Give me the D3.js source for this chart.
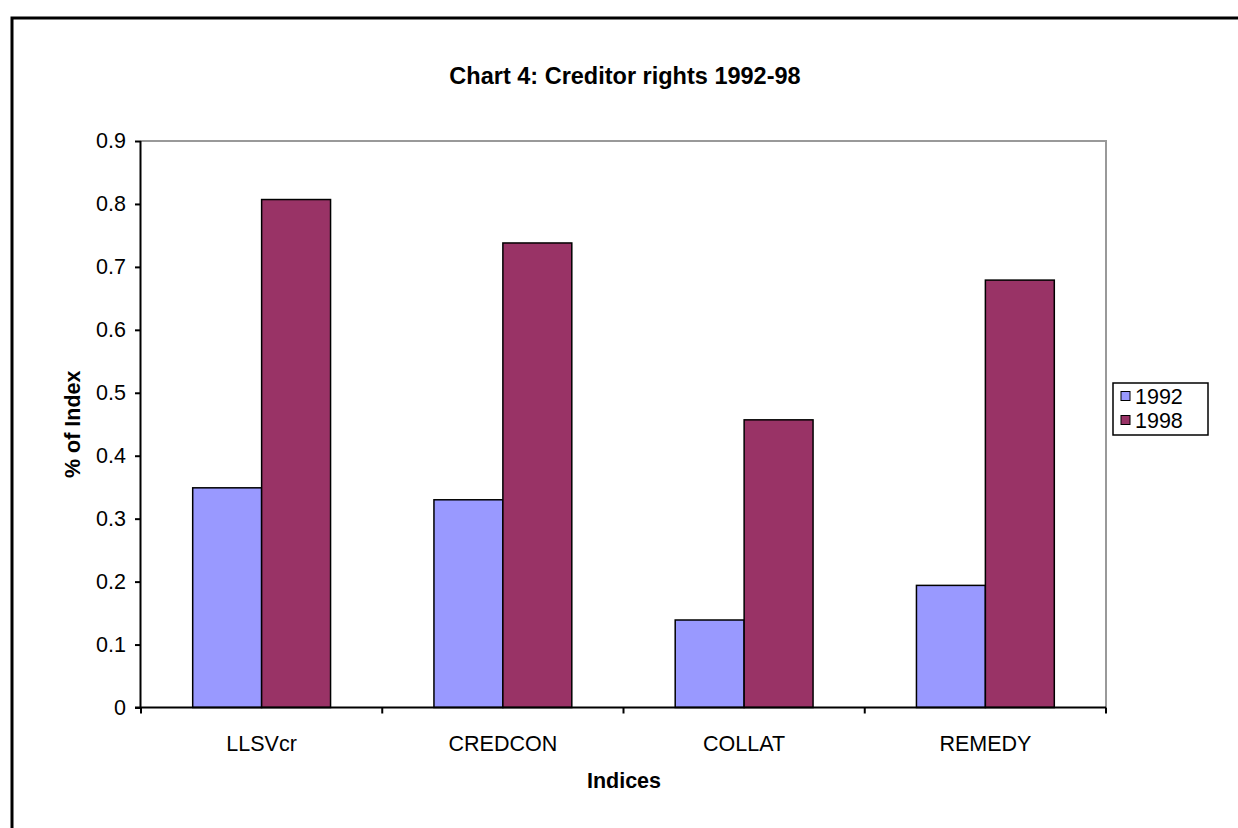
<!DOCTYPE html>
<html>
<head>
<meta charset="utf-8">
<script src="https://cdn.jsdelivr.net/npm/d3@7"></script>
<style>
  body { margin: 0; background: #fff; }
  text { font-family: "Liberation Sans", Arial, sans-serif; }
</style>
</head>
<body>
<svg id="chart" width="1238" height="828"></svg>
<script>
// data
const categories = ["LLSVcr", "CREDCON", "COLLAT", "REMEDY"];
const seriesNames = ["1992", "1998"];
const values1992 = [0.349, 0.330, 0.139, 0.194];
const values1998 = [0.807, 0.738, 0.457, 0.679];
const yTicks = [0, 0.1, 0.2, 0.3, 0.4, 0.5, 0.6, 0.7, 0.8, 0.9];
const colors = ["#9999ff", "#993366"];

const svg = d3.select("#chart");
const plotL = 141, plotR = 1106, plotT = 141, plotB = 707.5;
const fs = 21.5;

// outer chart border (right and bottom edges run off the page)
svg.append("rect")
    .attr("x", 12).attr("y", 18)
    .attr("width", 1300).attr("height", 900)
    .attr("fill", "none")
    .attr("stroke", "#000")
    .attr("stroke-width", 3);

const x = d3.scaleBand().domain(categories).range([plotL, plotR]);
const y = d3.scaleLinear().domain([0, 0.9]).range([plotB, plotT]);

// plot area frame, grey top and right
svg.append("path")
    .attr("d", `M${plotL},${plotT}H${plotR}V${plotB}`)
    .attr("fill", "none")
    .attr("stroke", "#999")
    .attr("stroke-width", 2);

// bars: gap width 150% like excel
const bw = x.bandwidth() / 3.5;
const rows = categories.map((c, i) => ({ cat: c, vals: [values1992[i], values1998[i]] }));

const groups = svg.append("g").selectAll("g")
    .data(rows)
    .enter().append("g");

groups.selectAll("rect")
    .data(d => d.vals.map((v, k) => ({ cat: d.cat, v: v, k: k })))
    .enter().append("rect")
    .attr("x", d => x(d.cat) + x.bandwidth() / 2 - bw + d.k * bw)
    .attr("y", d => y(d.v))
    .attr("width", bw)
    .attr("height", d => y(0) - y(d.v))
    .attr("fill", d => colors[d.k])
    .attr("stroke", "#000")
    .attr("stroke-width", 1.5);

// y axis
const yAxis = svg.append("g")
    .attr("transform", `translate(${plotL},0)`)
    .call(d3.axisLeft(y).tickValues(yTicks).tickSize(6).tickFormat(d => d === 0 ? "0" : d3.format(".1f")(d)));
yAxis.select(".domain").attr("stroke-width", 2).attr("d", `M-0.5,${plotT}V${plotB}`);
yAxis.selectAll(".tick line").attr("stroke-width", 2);
yAxis.selectAll(".tick text")
    .attr("font-size", fs)
    .attr("font-family", "Liberation Sans, Arial, sans-serif")
    .attr("fill", "#000")
    .attr("x", -15);

// x axis with ticks at category boundaries
const xAxis = svg.append("g")
    .attr("transform", `translate(0,${plotB})`);
xAxis.append("line")
    .attr("x1", plotL - 6).attr("x2", plotR)
    .attr("stroke", "#000").attr("stroke-width", 2);
const bounds = categories.map(c => x(c)).concat([plotR]);
xAxis.selectAll("line.tk")
    .data(bounds)
    .enter().append("line")
    .attr("class", "tk")
    .attr("x1", d => d).attr("x2", d => d)
    .attr("y1", 0).attr("y2", 6)
    .attr("stroke", "#000").attr("stroke-width", 2);
xAxis.selectAll("text")
    .data(categories)
    .enter().append("text")
    .attr("x", d => x(d) + x.bandwidth() / 2)
    .attr("y", 43.5)
    .attr("text-anchor", "middle")
    .attr("font-size", fs)
    .text(d => d);

// title and axis titles
svg.append("text")
    .attr("x", 625).attr("y", 83.5)
    .attr("text-anchor", "middle")
    .attr("font-size", 23.5)
    .attr("font-weight", "bold")
    .text("Chart 4: Creditor rights 1992-98");

svg.append("text")
    .attr("x", 624).attr("y", 788)
    .attr("text-anchor", "middle")
    .attr("font-size", fs)
    .attr("font-weight", "bold")
    .text("Indices");

svg.append("text")
    .attr("transform", `translate(80,${(plotT + plotB) / 2}) rotate(-90)`)
    .attr("text-anchor", "middle")
    .attr("font-size", fs)
    .attr("font-weight", "bold")
    .text("% of Index");

// legend
const legend = svg.append("g").attr("transform", "translate(1113,383)");
legend.append("rect")
    .attr("width", 95).attr("height", 52)
    .attr("fill", "#fff")
    .attr("stroke", "#000")
    .attr("stroke-width", 1.5);
const item = legend.selectAll("g.item")
    .data(seriesNames)
    .enter().append("g")
    .attr("class", "item")
    .attr("transform", (d, i) => `translate(8,${13 + i * 24})`);
item.append("rect")
    .attr("x", 0).attr("y", -4.5)
    .attr("width", 9).attr("height", 9)
    .attr("fill", (d, i) => colors[i])
    .attr("stroke", "#000")
    .attr("stroke-width", 1);
item.append("text")
    .attr("x", 14).attr("y", 7.5)
    .attr("font-size", fs)
    .text(d => d);
</script>
</body>
</html>
